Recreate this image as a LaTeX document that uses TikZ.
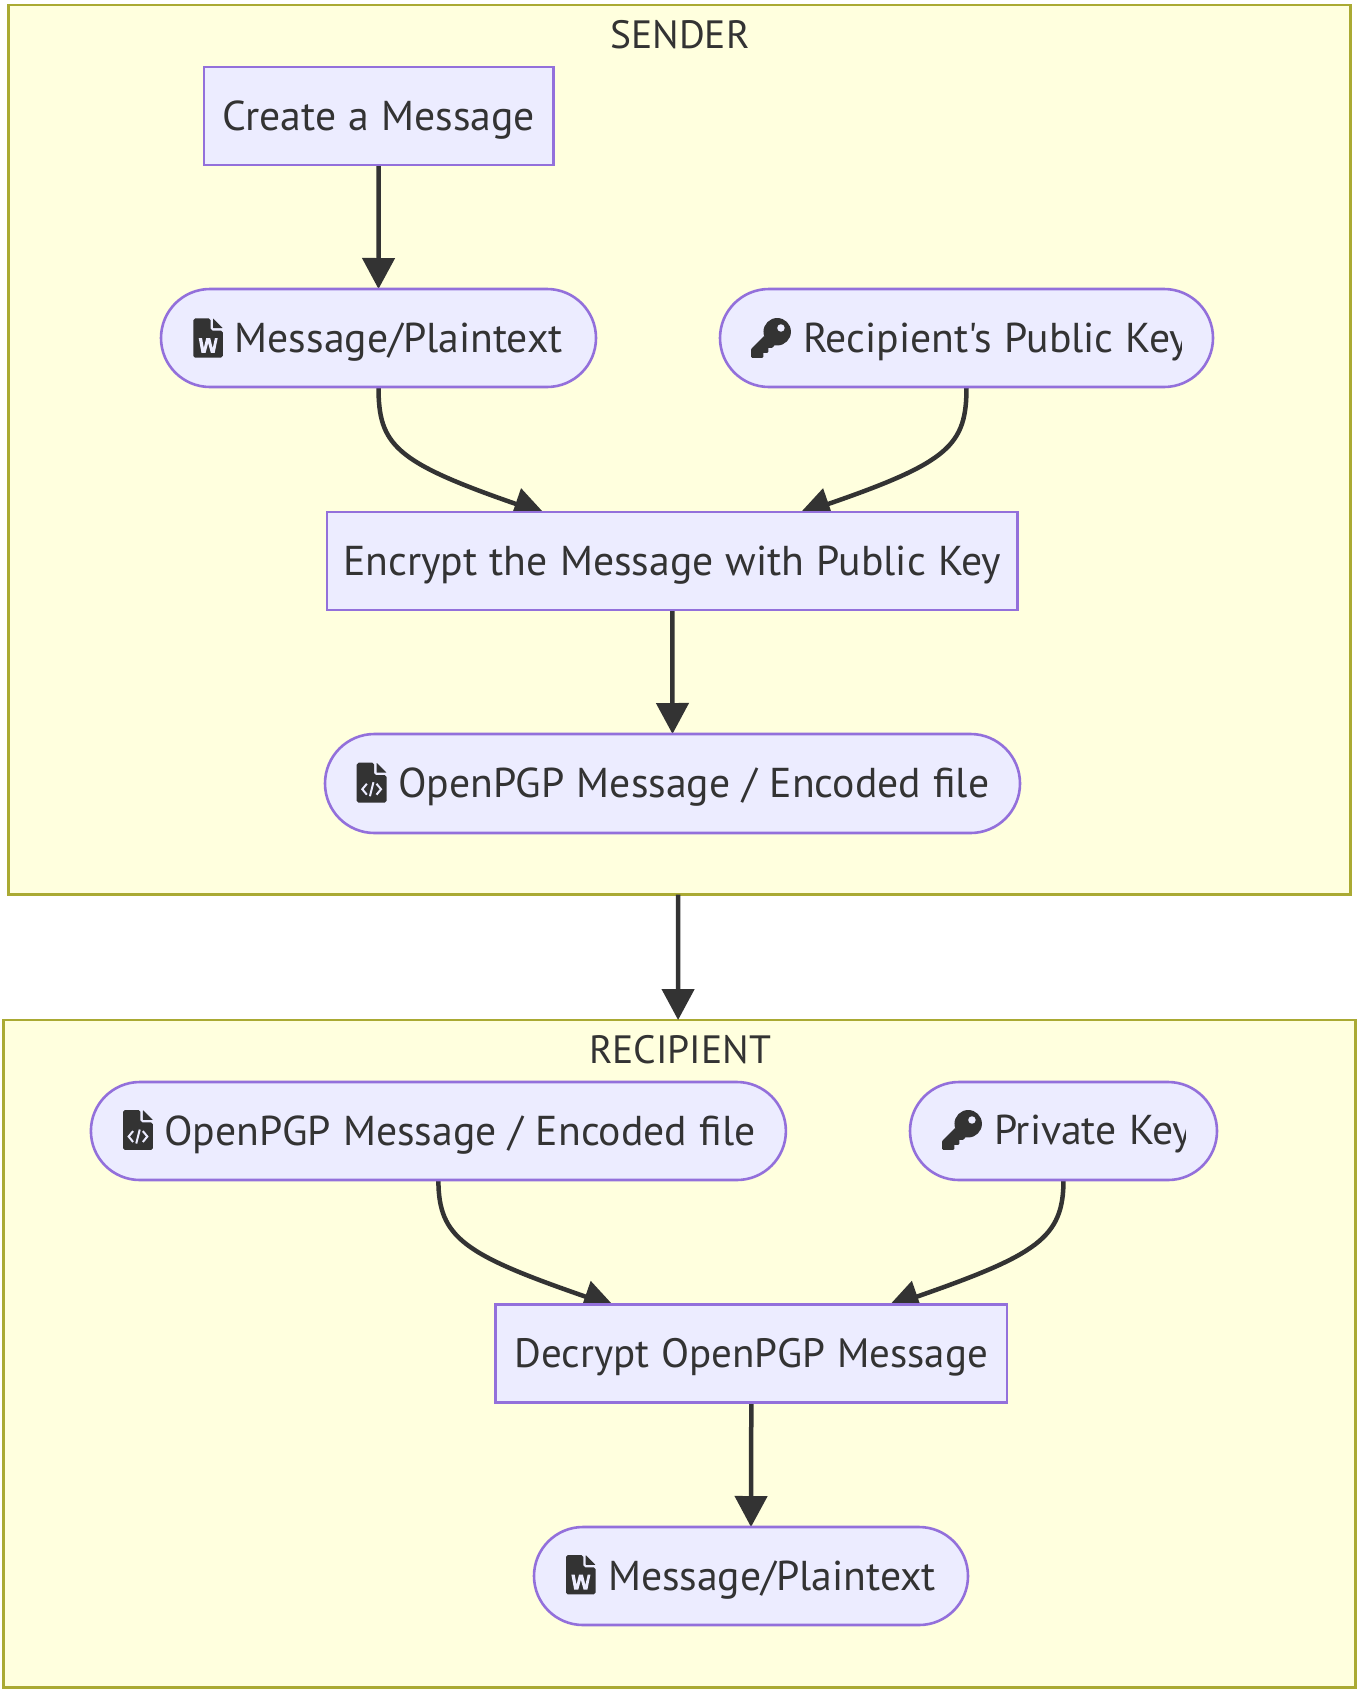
\documentclass[tikz,border=0pt]{standalone}
\usepackage{fontspec}
\newfontfamily\labelface{PT Sans}[WordSpace=1.1]
\usetikzlibrary{arrows.meta,shapes.misc,calc}
\definecolor{ink}{HTML}{333333}
\definecolor{nodefill}{HTML}{ECECFF}
\definecolor{nodeline}{HTML}{9370DB}
\definecolor{framefill}{HTML}{FFFFDE}
\definecolor{frameline}{HTML}{AAAA33}
\pgfdeclarelayer{frames}
\pgfdeclarelayer{edges}
\pgfsetlayers{frames,edges,main}
\newcommand\labelfont{\labelface\fontsize{41.7}{48}\selectfont}
\newcommand\narrowfont{\labelface\fontsize{41}{48}\selectfont}
\newcommand\titlefont{\labelface\fontsize{39.5}{48}\selectfont}
\tikzset{
  frame/.style={rectangle,draw=frameline,fill=framefill,line width=2.6pt,inner sep=0pt,outer sep=0pt},
  base/.style={draw=nodeline,fill=nodefill,line width=2.6pt,inner sep=0pt,outer sep=0pt,
    minimum height=98pt,text=ink,font=\labelfont,text height=38pt,text depth=10pt},
  boxnode/.style={base,rectangle},
  pill/.style={base,rounded rectangle},
  textlabel/.style={inner sep=0pt,outer sep=0pt,text=ink,font=\labelfont,anchor=base west},
  title/.style={inner sep=0pt,outer sep=0pt,text=ink,font=\titlefont,anchor=base},
  edge/.style={draw=ink,line width=4.5pt,-{Triangle[length=31pt,width=32pt]}},
  icon/.style={fill=ink,draw=none},
  iconmark/.style={draw=nodefill,line width=2pt,line join=miter,fill=none}
}
\newcommand\filebody{%
  \fill[icon,rounded corners=1.9pt] (224,0) -- (0,0) -- (0,512) -- (384,512) -- (384,160) -- (224,160) -- cycle;
  \fill[icon,rounded corners=.5pt] (256,0) -- (384,128) -- (256,128) -- cycle;}
\newcommand\wordicon[2]{\begin{scope}[shift={(#1,#2)},scale=.077]
  \filebody
  \fill[nodefill] (70,256) -- (113,256) -- (137,385) -- (168,256) -- (220,256) -- (252,390) -- (281,256) -- (317,256) -- (278,448) -- (228,448) -- (193,322) -- (160,448) -- (106,448) -- cycle;
  \end{scope}}
\newcommand\codeicon[2]{\begin{scope}[shift={(#1,#2)},scale=.078]
  \filebody
  \draw[iconmark] (130,270) -- (72,340) -- (130,410);
  \draw[iconmark] (254,270) -- (312,340) -- (254,410);
  \draw[iconmark] (215,250) -- (170,430);
  \end{scope}}
\newcommand\keyicon[2]{\begin{scope}[shift={(#1,#2)},scale=.078]
  \fill[icon] (336,176) circle[radius=176];
  \fill[icon] (303,349) -- (279,376) -- (261,384) -- (224,384) -- (224,430) -- (206,448) -- (160,448) -- (160,494) -- (142,512) -- (18,512) -- (0,494) -- (0,410) -- (7,393) -- (169,231) -- cycle;
  \fill[nodefill] (384,128) circle[radius=48];
  \end{scope}}
\begin{document}
\begin{tikzpicture}[x=1pt,y=-1pt]
\useasboundingbox (0,0) rectangle (1362,1692);
\begin{pgfonlayer}{frames}
  \fill[white] (0,0) rectangle (1362,1692);
  \node[frame,minimum width=1342.3pt,minimum height=889.7pt] (sender) at (679.55,449.85) {};
  \node[frame,minimum width=1352.2pt,minimum height=667.3pt] (recipient) at (679.6,1353.65) {};
\end{pgfonlayer}
\node[title] (sendertitle) at (680,48) {SENDER};
\node[title] (recipienttitle) at (680,1063) {RECIPIENT};
% sender
\node[boxnode,minimum width=349.4pt] (create) at (378.7,116) {Create a Message};
\node[pill,minimum width=435pt] (msgA) at (378.5,338) {\makebox[368.4pt][r]{Message/Plaintext}};
\node[pill,minimum width=493pt] (pubkey) at (966.5,338) {};
\node[boxnode,minimum width=690.8pt] (encrypt) at (672.3,561) {Encrypt the Message with Public Key};
\node[pill,minimum width=695pt,minimum height=99pt] (pgpA) at (672.5,783.5) {\makebox[633.5pt][r]{OpenPGP Message / Encoded file}};
% recipient
\node[pill,minimum width=695pt] (pgpB) at (438.4,1131) {\makebox[634pt][r]{OpenPGP Message / Encoded file}};
\node[pill,minimum width=307pt] (privkey) at (1063.5,1131) {};
\node[boxnode,minimum width=511.5pt,font=\narrowfont] (decrypt) at (751.3,1353.7) {Decrypt OpenPGP Message};
\node[pill,minimum width=434pt] (msgB) at (751,1576) {\makebox[370pt][r]{Message/Plaintext}};
% clipped labels
\begin{scope}
  \clip (790,300) rectangle (1181,380);
  \node[textlabel] (pubkeytext) at (803,352.7) {Recipient's Public Key};
\end{scope}
\begin{scope}
  \clip (985,1090) rectangle (1185.7,1170);
  \node[textlabel] (privkeytext) at (994,1144.3) {Private Key};
\end{scope}
% icons
\wordicon{193.3}{318.3}
\keyicon{751}{318}
\codeicon{356.7}{762.7}
\codeicon{123}{1110}
\keyicon{942}{1110}
\wordicon{566}{1555}
% connectors
\begin{pgfonlayer}{edges}
  \draw[edge] (create.south) -- (msgA.north);
  \draw[edge] (msgA.south) .. controls +(0,58) and ($(encrypt.north west)+(68,-50)$) .. ($(encrypt.north west)+(218,2)$);
  \draw[edge] (pubkey.south) .. controls +(0,58) and ($(encrypt.north east)+(-68,-50)$) .. ($(encrypt.north east)+(-218.5,2)$);
  \draw[edge] (encrypt.south) -- (pgpA.north);
  \draw[edge] ([xshift=-1.5pt]sender.south) -- ([xshift=-1.5pt]recipient.north);
  \draw[edge] (pgpB.south) .. controls +(0,58) and ($(decrypt.north west)+(-31,-50)$) .. ($(decrypt.north west)+(119,2)$);
  \draw[edge] (privkey.south) .. controls +(0,58) and ($(decrypt.north east)+(30,-50)$) .. ($(decrypt.north east)+(-119,2)$);
  \draw[edge] (decrypt.south) -- (msgB.north);
\end{pgfonlayer}
\end{tikzpicture}
\end{document}
